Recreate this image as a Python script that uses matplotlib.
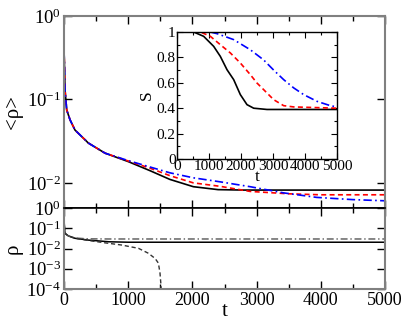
import numpy as np
import matplotlib
matplotlib.use("Agg")
import matplotlib.pyplot as plt
from matplotlib.ticker import MultipleLocator, LogLocator, NullLocator, LogFormatterSciNotation

plt.rcParams['font.family'] = ['Liberation Serif', 'DejaVu Serif']
plt.rcParams['mathtext.fontset'] = 'custom'
plt.rcParams['mathtext.rm'] = 'Liberation Serif'
plt.rcParams['mathtext.it'] = 'Liberation Serif:italic'

# ---- top panel: <rho>(t) ----
t_black = [0, 5, 16, 42, 94, 171, 380, 640, 1000, 1340, 1650, 2015, 2400, 2800, 5000]
rho_black = [0.39, 0.30, 0.13, 0.075, 0.057, 0.043, 0.030, 0.0227, 0.0180, 0.0140, 0.0110, 0.0090, 0.0083, 0.0082, 0.0082]
t_red = [0, 5, 16, 42, 94, 171, 380, 640, 1000, 1340, 1650, 2015, 2430, 2900, 3500, 4000, 5000]
rho_red = [0.39, 0.30, 0.13, 0.075, 0.057, 0.043, 0.030, 0.0227, 0.0183, 0.0150, 0.0122, 0.0100, 0.0091, 0.0079, 0.0074, 0.0072, 0.0072]
t_blue = [0, 5, 16, 42, 94, 171, 380, 640, 1000, 1340, 1650, 2015, 2430, 2900, 3415, 3935, 4500, 5000]
rho_blue = [0.39, 0.30, 0.13, 0.075, 0.057, 0.043, 0.030, 0.0227, 0.0185, 0.0155, 0.0132, 0.0115, 0.0103, 0.0090, 0.0076, 0.0067, 0.0063, 0.0061]

# ---- inset: S(t) ----
tS_black = [0, 520, 833, 1146, 1354, 1563, 1771, 1979, 2187, 2396, 2812, 5000]
S_black = [1.0, 1.0, 0.966, 0.887, 0.808, 0.703, 0.625, 0.507, 0.428, 0.400, 0.390, 0.390]
tS_red = [0, 730, 1042, 1354, 1667, 1979, 2292, 2500, 2708, 3021, 3333, 3646, 5000]
S_red = [1.0, 1.0, 0.966, 0.900, 0.835, 0.756, 0.664, 0.598, 0.546, 0.467, 0.420, 0.410, 0.400]
tS_blue = [0, 1040, 1250, 1771, 2292, 2708, 3021, 3333, 3646, 3958, 4375, 4792, 5000]
S_blue = [1.0, 1.0, 0.987, 0.940, 0.860, 0.780, 0.700, 0.625, 0.560, 0.507, 0.454, 0.420, 0.410]

# ---- bottom panel: rho(t) ----
t_solid = [0, 5, 15, 67, 170, 380, 700, 1000, 5000]
rho_solid = [0.30, 0.15, 0.056, 0.042, 0.032, 0.026, 0.0215, 0.0204, 0.0204]
t_dashdot = [0, 5, 15, 67, 170, 380, 700, 1000, 5000]
rho_dashdot = [0.30, 0.15, 0.056, 0.042, 0.033, 0.030, 0.0295, 0.0295, 0.0295]
t_dashed = [0, 5, 15, 67, 170, 380, 640, 900, 1160, 1315, 1420, 1470, 1495, 1510, 1518]
rho_dashed = [0.30, 0.15, 0.056, 0.042, 0.032, 0.025, 0.019, 0.0148, 0.0102, 0.0058, 0.0032, 0.0019, 0.00063, 0.00016, 0.00005]

W, H = 415, 321
fig = plt.figure(figsize=(W/100, H/100), dpi=100)

def fx(px): return px / W
def fy(py): return 1 - py / H

L, R = 64, 385
ax1 = fig.add_axes([fx(L), fy(208), fx(R - L), fy(16) - fy(208)])
ax2 = fig.add_axes([fx(L), fy(289), fx(R - L), fy(208) - fy(289)])
axi = fig.add_axes([fx(177), fy(159), fx(337 - 177), fy(32) - fy(159)])

spine_col = '#808080'
for ax in (ax1, ax2):
    for s in ax.spines.values():
        s.set_color(spine_col)
        s.set_linewidth(1.5)
ax1.spines['bottom'].set_color('black')
ax1.spines['bottom'].set_linewidth(1.2)
ax2.spines['top'].set_color('black')
ax2.spines['top'].set_linewidth(1.2)

# top panel
ax1.plot(t_black, rho_black, color='black', lw=1.2)
ax1.plot(t_red, rho_red, color='red', lw=1.2, ls=(0, (3, 2)))
ax1.plot(t_blue, rho_blue, color='blue', lw=1.2, ls=(0, (5, 2, 1, 2)))
ax1.set_yscale('log')
ax1.set_ylim(0.005, 1)
ax1.set_xlim(0, 5000)
ax1.xaxis.set_major_locator(MultipleLocator(1000))
ax1.xaxis.set_minor_locator(MultipleLocator(500))
ax1.yaxis.set_major_locator(LogLocator(base=10, numticks=10))
ax1.yaxis.set_minor_locator(NullLocator())
ax1.yaxis.set_major_formatter(LogFormatterSciNotation())
ax1.tick_params(axis='both', which='both', direction='in', top=True, right=True, bottom=True, left=True)
ax1.tick_params(which='major', length=6, width=1)
ax1.tick_params(which='minor', length=3.5, width=1)
ax1.tick_params(axis='x', labelbottom=False)
ax1.tick_params(axis='y', labelsize=13.5, pad=2)
ax1.set_ylabel(r'<ρ>', fontsize=15, labelpad=3)

# bottom panel
ax2.plot(t_solid, rho_solid, color='black', lw=1.1)
ax2.plot(t_dashdot, rho_dashdot, color='#555555', lw=1.0, ls=(0, (5, 2, 1, 2)))
ax2.plot(t_dashed, rho_dashed, color='#333333', lw=1.0, ls=(0, (3, 2)))
ax2.set_yscale('log')
ax2.set_ylim(1e-4, 1)
ax2.set_xlim(0, 5000)
ax2.xaxis.set_major_locator(MultipleLocator(1000))
ax2.xaxis.set_minor_locator(MultipleLocator(500))
ax2.yaxis.set_major_locator(LogLocator(base=10, numticks=10))
ax2.yaxis.set_minor_locator(NullLocator())
ax2.yaxis.set_major_formatter(LogFormatterSciNotation())
ax2.tick_params(axis='both', which='both', direction='in', top=True, right=True, bottom=True, left=True)
ax2.tick_params(which='major', length=6, width=1)
ax2.tick_params(which='minor', length=3.5, width=1)
ax2.tick_params(axis='y', labelsize=13.5, pad=2)
ax2.tick_params(axis='x', labelsize=13, pad=2)
ax2.set_ylabel('ρ', fontsize=15, labelpad=3)
ax2.set_xlabel('t', fontsize=15, labelpad=-5)

# inset
axi.plot(tS_black, S_black, color='black', lw=1.2)
axi.plot(tS_red, S_red, color='red', lw=1.2, ls=(0, (3, 2)))
axi.plot(tS_blue, S_blue, color='blue', lw=1.2, ls=(0, (5, 2, 1, 2)))
axi.set_xlim(0, 5000)
axi.set_ylim(0, 1)
axi.xaxis.set_major_locator(MultipleLocator(1000))
axi.xaxis.set_minor_locator(MultipleLocator(500))
axi.yaxis.set_major_locator(MultipleLocator(0.2))
axi.yaxis.set_minor_locator(MultipleLocator(0.1))
axi.yaxis.set_major_formatter(plt.FuncFormatter(lambda v, p: '0' if abs(v) < 1e-9 else ('1' if abs(v - 1) < 1e-9 else f'{v:.1f}')))
axi.tick_params(axis='both', which='both', direction='in', top=True, right=True, bottom=True, left=True)
axi.tick_params(which='major', length=4, width=0.8)
axi.tick_params(which='minor', length=2, width=0.8)
axi.tick_params(axis='both', labelsize=11, pad=1)
for s in axi.spines.values():
    s.set_linewidth(1.0)
axi.set_ylabel('S', fontsize=12.5, labelpad=1)
axi.set_xlabel('t', fontsize=12.5, labelpad=-3)

fig.savefig('out.png', dpi=100)
